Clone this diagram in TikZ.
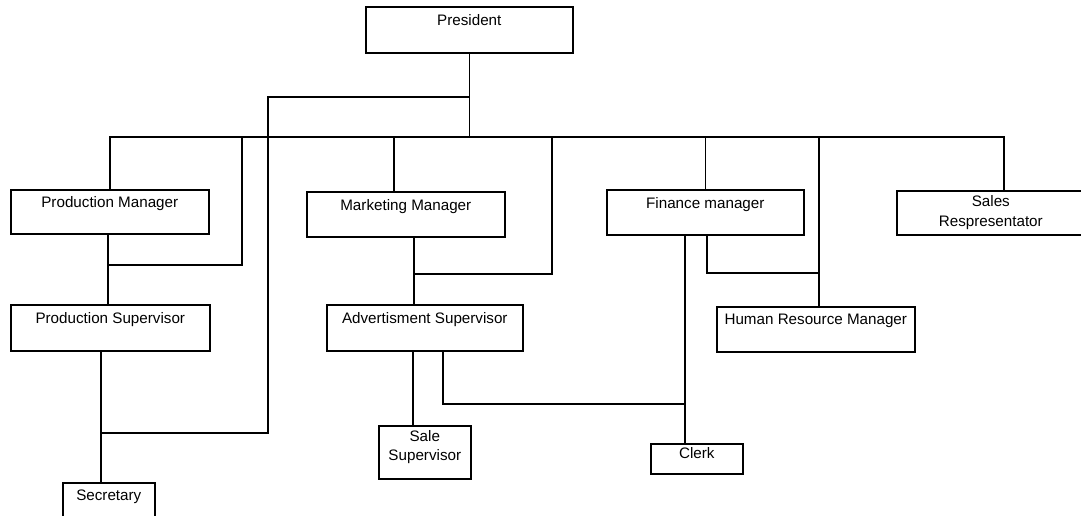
\documentclass[tikz,border=0pt]{standalone}
\usepackage{fontspec}
\setmainfont{Liberation Sans}
\usepackage{tikz}

\begin{document}
\begin{tikzpicture}[x=1pt,y=-1pt,line width=1.6pt,
	box/.style={draw, anchor=north west, align=center, inner sep=2pt,
		font=\fontsize{15.2}{19.5}\selectfont}]
			\useasboundingbox (0,0) rectangle (1081,515);
			\clip (0,0) rectangle (1081,515);
			\node[box, minimum width=207, minimum height=46] (pres) at (365,6) {President\\~};
			\node[box, minimum width=198, minimum height=44] (pm) at (10,189) {Production Manager\\~};
			\node[box, minimum width=198, minimum height=45] (mm) at (306,191) {Marketing Manager\\~};
			\node[box, minimum width=197, minimum height=45] (fm) at (606,189) {Finance manager\\~};
			\node[box, minimum width=188, minimum height=44] (sr) at (896,190) {Sales\\Respresentator};
			\node[box, minimum width=199, minimum height=46] (ps) at (10,304) {Production Supervisor\\~};
			\node[box, minimum width=196, minimum height=46] (as) at (326,304) {Advertisment Supervisor\\~};
			\node[box, minimum width=198, minimum height=45] (hrm) at (716,306) {Human Resource Manager\\~};
			\node[box, minimum width=92, minimum height=53] (ss) at (378,425) {Sale\\Supervisor\\[-6pt]~};
			\node[box, minimum width=92, minimum height=30] (clerk) at (650,443) {Clerk\\[-8pt]~};
			\node[box, minimum width=92, minimum height=44] (sec) at (62,482) {Secretary\\~};
			
			\coordinate (bus) at (0,137);
			\coordinate (a1) at (268,97);
			\coordinate (a2) at (268,433);
			\coordinate (b1) at (242,265);
			\coordinate (c1) at (552,274);
			\coordinate (d1) at (0,404);
			\coordinate (e1) at (0,273);
			
			\draw (pres) -- (pres |- bus);
			\draw (pm.north) -- (pm.north |- bus) -- ([xshift=13]sr.north |- bus) -- ([xshift=13]sr.north);
			\draw (pres |- a1) -- (a1) -- (a2) -- ([xshift=-9.5]ps.south |- a2);
			\draw (b1 |- bus) -- (b1) -- ([xshift=-2]pm.south |- b1);
			\draw ([xshift=-2]pm.south) -- ([xshift=-2]pm.south |- ps.north);
			\draw ([xshift=-9.5]ps.south) -- ([xshift=-9.5]ps.south |- sec.north);
			\draw ([xshift=-12]mm.north |- bus) -- ([xshift=-12]mm.north);
			\draw ([xshift=8]mm.south) -- ([xshift=8]mm.south |- as.north);
			\draw (c1 |- bus) -- (c1) -- ([xshift=8]mm.south |- c1);
			\draw ([xshift=-12]as.south) -- ([xshift=-12]as.south |- ss.north);
			\draw ([xshift=18]as.south) |- ([xshift=-20.5]fm.south |- d1);
			\draw ([xshift=-20.5]fm.south) -- ([xshift=-20.5]fm.south |- clerk.north);
			\draw (fm.north |- bus) -- (fm.north);
			\draw ([xshift=1.5]fm.south) |- ([xshift=3]hrm.north |- e1);
			\draw ([xshift=3]hrm.north |- bus) -- ([xshift=3]hrm.north);
		\end{tikzpicture}
\end{document}
